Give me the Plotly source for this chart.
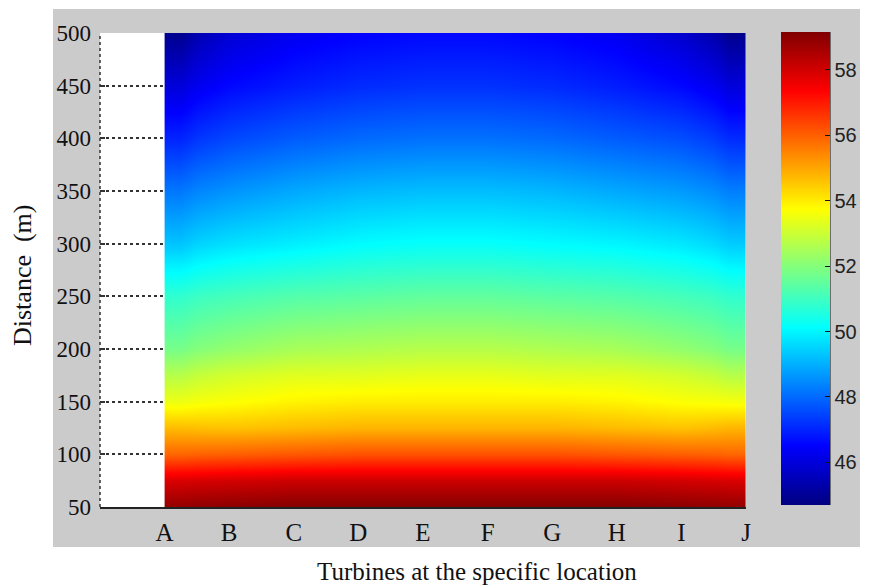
import plotly.graph_objects as go

# ---- data ----
turbines = ["A", "B", "C", "D", "E", "F", "G", "H", "I", "J"]
distance = [50, 75, 100, 125, 150, 175, 200, 250, 300, 350, 400, 450, 500]

row_50  = [58.9, 59.0, 59.1, 59.1, 59.1, 59.1, 59.1, 59.1, 59.0, 58.9]
row_75  = [57.9, 58.0, 58.1, 58.1, 58.1, 58.1, 58.1, 58.1, 58.0, 57.9]
row_100 = [55.9, 56.0, 56.1, 56.2, 56.2, 56.2, 56.2, 56.1, 56.0, 55.9]
row_125 = [54.7, 54.6, 54.7, 54.8, 54.8, 54.8, 54.8, 54.7, 54.6, 54.8]
row_150 = [53.5, 53.7, 53.9, 54.0, 54.0, 54.0, 54.0, 53.9, 53.7, 53.6]
row_175 = [52.7, 53.1, 53.3, 53.3, 53.4, 53.4, 53.3, 53.3, 53.1, 52.7]
row_200 = [51.8, 52.2, 52.5, 52.6, 52.7, 52.7, 52.6, 52.5, 52.2, 51.8]
row_250 = [50.8, 51.1, 51.3, 51.4, 51.5, 51.5, 51.4, 51.3, 51.1, 50.8]
row_300 = [49.3, 49.7, 49.9, 50.1, 50.2, 50.2, 50.1, 50.0, 49.8, 49.4]
row_350 = [48.2, 48.6, 48.9, 49.1, 49.2, 49.2, 49.1, 48.9, 48.7, 48.3]
row_400 = [47.0, 47.5, 47.8, 48.0, 48.1, 48.1, 48.0, 47.8, 47.6, 47.1]
row_450 = [46.0, 46.6, 46.9, 47.1, 47.2, 47.2, 47.1, 46.9, 46.6, 46.0]
row_500 = [44.9, 45.9, 46.3, 46.5, 46.6, 46.6, 46.5, 46.3, 45.8, 44.9]

y_ticks = [50, 100, 150, 200, 250, 300, 350, 400, 450, 500]
cbar_ticks = [46, 48, 50, 52, 54, 56, 58]
c_min, c_max = 44.7, 59.15

rows = [row_50, row_75, row_100, row_125, row_150, row_175, row_200,
        row_250, row_300, row_350, row_400, row_450, row_500]

# turbine positions 0..n-1; heatmap bricks end exactly at turbines A and J
n = len(turbines)
x_edges = [0] + [i + 0.5 for i in range(n - 1)] + [n - 1]

jet = [[0.0, "rgb(0,0,128)"], [0.125, "rgb(0,0,255)"], [0.375, "rgb(0,255,255)"],
       [0.625, "rgb(255,255,0)"], [0.875, "rgb(255,0,0)"], [1.0, "rgb(128,0,0)"]]

# page body has an 8px margin: the figure is placed at (8, 8) in the window
OFF = 8
W, H = 875 - OFF, 587 - OFF
L, T = 100 - OFF, 33 - OFF
R = W - (746 - OFF)
B = H - (507 - OFF)
pw, ph = W - L - R, H - T - B


def px_x(p):
    return (p - OFF - L) / pw


def px_y(p):
    return (H - B - (p - OFF)) / ph


fig = go.Figure()
fig.add_trace(go.Heatmap(
    x=x_edges, y=distance, z=rows,
    zsmooth="best", colorscale=jet, zmin=c_min, zmax=c_max,
    colorbar=dict(
        x=px_x(781), xanchor="left", xpad=0,
        y=px_y(268.5), yanchor="middle", ypad=0,
        lenmode="pixels", len=473, thickness=49,
        outlinewidth=0,
        tickvals=cbar_ticks, ticks="inside", ticklen=5, tickcolor="#111",
        tickfont=dict(family="Liberation Sans", size=20, color="#222"),
    ),
))

serif = "Liberation Serif"
fig.update_layout(
    width=W, height=H,
    margin=dict(l=L, r=R, t=T, b=B),
    paper_bgcolor="white", plot_bgcolor="white",
    xaxis=dict(range=[-1, n - 1], tickvals=list(range(n)),
               ticktext=turbines, showgrid=False, zeroline=False,
               showline=True, linecolor="#222", linewidth=1.5, ticks="",
               ticklabelstandoff=2,
               tickfont=dict(family=serif, size=25, color="#111")),
    yaxis=dict(range=[50, 500], tickvals=y_ticks, showgrid=True,
               griddash="dot", gridcolor="#333", gridwidth=1.5,
               zeroline=False, showline=False, ticks="inside", ticklen=5,
               tickcolor="#333", tickwidth=1.5, ticklabelstandoff=8,
               tickfont=dict(family=serif, size=23, color="#111")),
    shapes=[
        dict(type="rect", xref="paper", yref="paper",
             x0=px_x(53), x1=px_x(860), y0=px_y(547), y1=px_y(9),
             fillcolor="#cbcbcb", line=dict(width=0), layer="below"),
        dict(type="rect", xref="x domain", yref="y domain", x0=0, x1=1, y0=0, y1=1,
             fillcolor="white", line=dict(width=0), layer="below"),
        dict(type="line", xref="x domain", yref="y domain", x0=0, x1=0, y0=0, y1=1,
             line=dict(color="#333", width=1.5, dash="dot")),
        dict(type="line", xref="paper", yref="paper",
             x0=px_x(830), x1=px_x(830), y0=px_y(505), y1=px_y(32),
             line=dict(color="#111", width=1)),
    ],
    annotations=[
        dict(text="Turbines at the specific location", xref="paper", yref="paper",
             x=px_x(477), y=px_y(571), xanchor="center", yanchor="middle",
             showarrow=False, font=dict(family=serif, size=25, color="#111")),
        dict(text="Distance  (m)", xref="paper", yref="paper",
             x=px_x(22), y=px_y(275), xanchor="center", yanchor="middle",
             textangle=-90, showarrow=False,
             font=dict(family=serif, size=26, color="#111")),
    ],
)

fig.write_html("out.html")
